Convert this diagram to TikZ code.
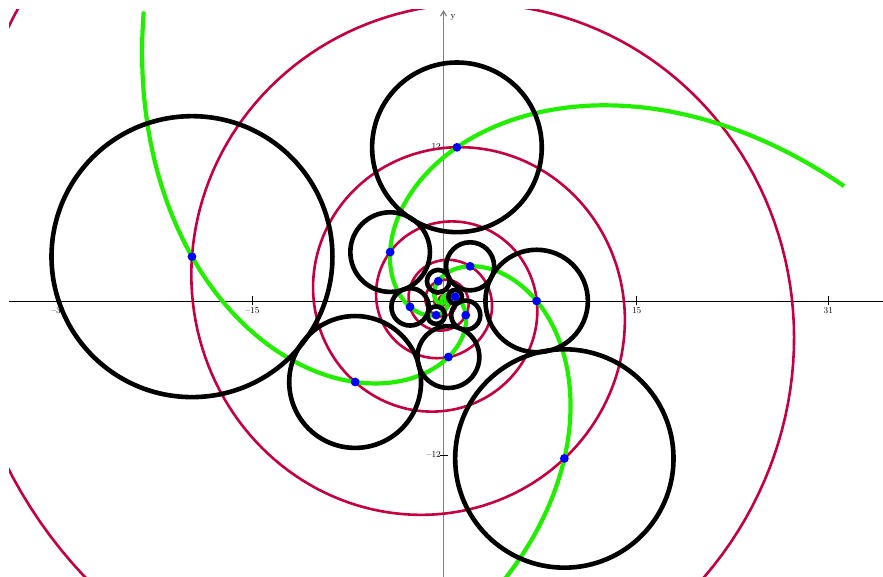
\documentclass[tikz,border=0pt]{standalone}
\usetikzlibrary{arrows.meta}
\definecolor{spred}{RGB}{196,0,62}
\definecolor{spgreen}{RGB}{34,238,0}
\definecolor{dotblue}{RGB}{0,0,255}
\begin{document}
\begin{tikzpicture}[x=1pt,y=1pt,
  redsp/.style={spred, line width=2.6pt},
  greensp/.style={spgreen, line width=4.2pt},
  blackcirc/.style={black, line width=4.6pt},
  bluedot/.style={fill=dotblue, draw=none},
  ticklab/.style={font=\fontsize{9}{10}\selectfont, inner sep=0pt},
  tickmark/.style={black, line width=0.8pt}]
\useasboundingbox (0,0) rectangle (883,577);
\coordinate (O) at (443.5,276);
% axes
\coordinate (xl) at (9,276);
\coordinate (xr) at (883,276);
\coordinate (yb) at (443.5,0);
\coordinate (yt) at (443.5,567);
\draw[black, line width=0.9pt] (xl) -- (xr);
\draw[gray, line width=1.2pt, -{Straight Barb[length=5pt,width=6pt]}] (yb) -- (yt);
\node[ticklab, anchor=west] (ylab) at (450.5,559.5) {y};
% x ticks
\foreach \px/\lab [count=\i] in {58.5/\textendash31, 252.5/\textendash15, 636.7/15, 828.3/31} {
  \draw[tickmark] (\px,271.5) -- (\px,280.5);
  \node[ticklab] (xt\i) at (\px,266) {\lab};
}
% y ticks
\draw[tickmark] (439.5,430) -- (447.5,430);
\node[ticklab, anchor=east] (yt1) at (441,430) {12};
\draw[tickmark] (439.5,122) -- (447.5,122);
\node[ticklab, anchor=east] (yt2) at (441,122) {\textendash12};
\begin{scope}
\clip (9,0) rectangle (883,567);
\begin{scope}[shift={(O)}]
  \draw[redsp] plot[domain=-222:3200, samples=1600] (\x:{255.4*exp(-0.0018343*(\x-170))});
  \foreach \a in {0,120,240}
    \draw[greensp, rotate=\a] plot[domain=136:545, samples=500] (\x:{255.4*exp(-0.014411*(\x-170))});
  \foreach \n in {0,...,12} {
    \pgfmathsetmacro\ang{170+137.5*\n}
    \pgfmathsetmacro\dd{255.4*exp(-0.2522*\n)}
    \pgfmathsetmacro\rr{0.55*\dd}
    \draw[blackcirc] (\ang:\dd) circle[radius=\rr];
  }
  \foreach \n in {0,...,12} {
    \pgfmathsetmacro\ang{170+137.5*\n}
    \pgfmathsetmacro\dd{255.4*exp(-0.2522*\n)}
    \fill[bluedot] (\ang:\dd) circle[radius=4.4];
  }
\end{scope}
\end{scope}
\end{tikzpicture}
\end{document}
